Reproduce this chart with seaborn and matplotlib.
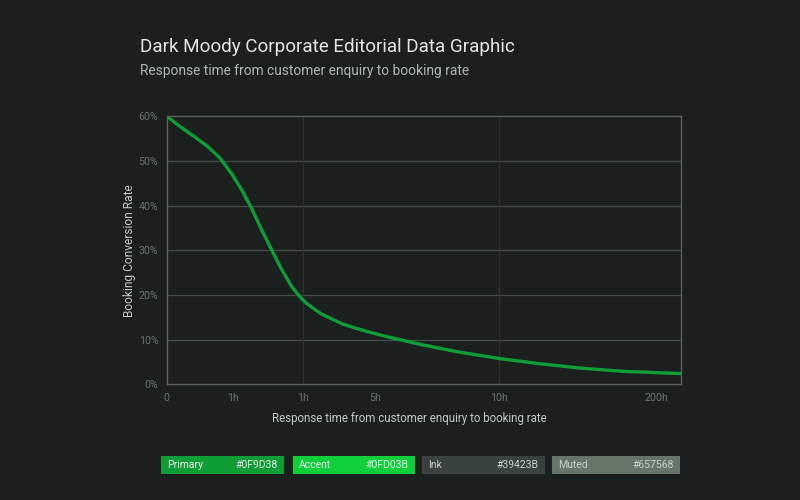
import numpy as np
import pandas as pd
import matplotlib
matplotlib.use("Agg")
import matplotlib.pyplot as plt
import seaborn as sns
from matplotlib.patches import Rectangle
from matplotlib.ticker import PercentFormatter

# Datos (posición en el eje, tasa de conversión %)
posicion = [0, 2.6, 5.2, 7.8, 10.4, 12.6, 14.6, 16.5, 18.5, 20.4, 22.4, 24.3,
            25.9, 27.1, 28.5, 30.0, 31.8, 34.2, 36.9, 40.0, 43.4, 49.9, 56.4,
            64.5, 72.6, 80.7, 88.8, 100]
conversion = [60.0, 57.7, 55.6, 53.4, 50.6, 47.2, 43.5, 39.4, 34.5, 30.1, 25.6,
              21.9, 19.6, 18.2, 17.0, 15.8, 14.8, 13.5, 12.5, 11.5, 10.5, 8.8,
              7.3, 5.8, 4.6, 3.6, 2.9, 2.4]

tick_pos = [0, 12.8, 26.4, 40.6, 64.6, 95.2]
tick_labels = ["0", "1h", "1h", "5h", "10h", "200h"]
grid_x = [26.4, 64.6]

paleta_nombres = ["Primary", "Accent", "Ink", "Muted"]
paleta_hex = ["#0F9D38", "#0FD03B", "#39423B", "#657568"]

df = pd.DataFrame({"pos": posicion, "conv": conversion})

# Estilo
bg = "#1b1f1e"
sns.set_theme(style="dark")
plt.rcParams.update({
    "font.family": ["Roboto", "DejaVu Sans"],
    "figure.facecolor": bg,
    "axes.facecolor": bg,
    "savefig.facecolor": bg,
    "lines.solid_joinstyle": "round",
    "lines.solid_capstyle": "round",
})

fig = plt.figure(figsize=(8, 5), dpi=100)
ax = fig.add_axes([0.2084, 0.2314, 0.6429, 0.536])

sns.lineplot(data=df, x="pos", y="conv", ax=ax, color="#0F9D38", linewidth=2.4)

ax.set_xlim(0, 100)
ax.set_ylim(0, 60)
ax.set_yticks(range(0, 61, 10))
ax.yaxis.set_major_formatter(PercentFormatter(decimals=0))
ax.set_xticks(tick_pos)
ax.set_xticklabels(tick_labels)

# Rejilla
for y in range(10, 60, 10):
    ax.axhline(y, color="#454d48", linewidth=0.9, zorder=0)
for x in grid_x:
    ax.axvline(x, color="#2c3330", linewidth=0.9, zorder=0)

for s in ax.spines.values():
    s.set_visible(True)
    s.set_color("#5a625d")
    s.set_linewidth(1.0)

ax.tick_params(axis="both", labelcolor="#6a746d", labelsize=7.7, length=0, pad=6)
ax.set_xlabel("Response time from customer enquiry to booking rate",
              color="#c3cbc5", fontsize=8.3, va="top")
ax.xaxis.set_label_coords(0.471, -0.105)
ax.set_ylabel("Booking Conversion Rate", color="#c3cbc5", fontsize=8.6, labelpad=2)

# Títulos
fig.text(0.175, 0.907, "Dark Moody Corporate Editorial Data Graphic",
         color="#e2e6e3", fontsize=13.6, va="center")
fig.text(0.175, 0.857, "Response time from customer enquiry to booking rate",
         color="#aeb6b0", fontsize=9.9, va="center")

# Muestras de la paleta
lefts = [161, 292.5, 421.7, 552]
widths = [123.3, 122.5, 123.3, 128.3]
y0, h = 500 - 473.5, 17.5
for i, (nombre, hx) in enumerate(zip(paleta_nombres, paleta_hex)):
    left, w = lefts[i], widths[i]
    fig.patches.append(Rectangle((left / 800, y0 / 500), w / 800, h / 500,
                                 transform=fig.transFigure, facecolor=hx,
                                 edgecolor="none"))
    tc = "#e8ece9" if i < 2 else "#c9cfcb"
    fig.text((left + 6) / 800, (y0 + h / 2) / 500, nombre, color=tc,
             fontsize=7.5, va="center", ha="left")
    fig.text((left + w - 6.5) / 800, (y0 + h / 2) / 500, hx, color=tc,
             fontsize=7.5, va="center", ha="right")

plt.savefig("out.png", dpi=100)
